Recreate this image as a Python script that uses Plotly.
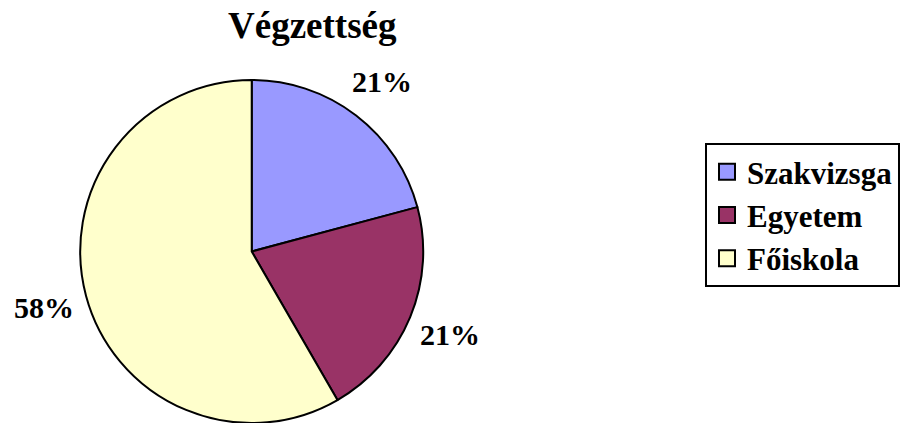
import math
import plotly.graph_objects as go

categories = ["Szakvizsga", "Egyetem", "Főiskola"]
values = [5, 5, 14]
colors = ["#9999FF", "#993366", "#FFFFCC"]
title_text = "Végzettség"

W, H = 900, 423
cx, cy, R = 252, 252, 172
label_r = 215
font = "Liberation Serif, Times New Roman, serif"

fig = go.Figure()
fig.add_trace(go.Pie(
    labels=categories, values=values, sort=False, direction="clockwise",
    rotation=0, marker=dict(colors=colors, line=dict(color="black", width=2)),
    textinfo="none", hoverinfo="label+percent", showlegend=False,
    domain=dict(x=[(cx - R) / W, (cx + R) / W], y=[max(0, 1 - (cy + R) / H), 1 - (cy - R) / H]),
))

# legend entries with larger square swatches
for name, col in zip(categories, colors):
    fig.add_trace(go.Scatter(
        x=[None], y=[None], mode="markers", name=name, showlegend=True,
        marker=dict(symbol="square", size=18, color=col, line=dict(color="black", width=2)),
    ))

total = sum(values)
cum = 0
annotations = []
for v in values:
    mid = (cum + v / 2) / total * 2 * math.pi
    cum += v
    px = cx + label_r * math.sin(mid)
    py = cy - label_r * math.cos(mid)
    annotations.append(dict(
        x=px / W, y=1 - py / H, xref="paper", yref="paper", showarrow=False,
        text=f"<b>{round(v / total * 100)}%</b>", font=dict(family=font, size=30, color="black"),
        xanchor="center", yanchor="middle",
    ))

annotations.append(dict(
    x=313 / W, y=1 - 26 / H, xref="paper", yref="paper", showarrow=False,
    text=f"<b>{title_text}</b>", font=dict(family=font, size=37, color="black"),
    xanchor="center", yanchor="middle",
))

fig.update_layout(
    width=W, height=H, margin=dict(l=0, r=0, t=0, b=0),
    paper_bgcolor="white", plot_bgcolor="white",
    annotations=annotations,
    showlegend=True,
    xaxis=dict(visible=False), yaxis=dict(visible=False),
    legend=dict(
        x=706 / W, y=1 - 143 / H, xanchor="left", yanchor="top",
        bordercolor="black", borderwidth=2, bgcolor="white",
        font=dict(family=font, size=31, color="black", weight="bold"),
        traceorder="normal", itemsizing="trace",
    ),
)

fig.write_html("out.html")
